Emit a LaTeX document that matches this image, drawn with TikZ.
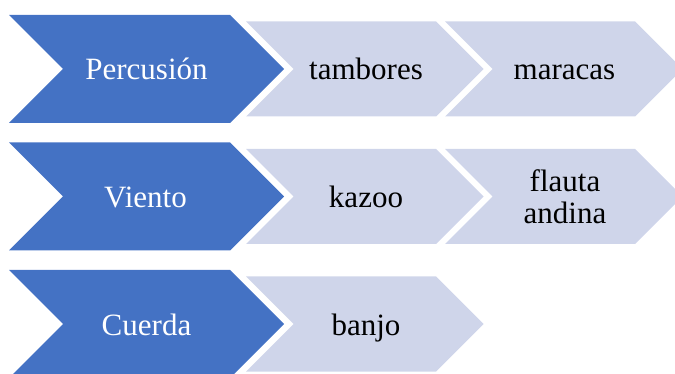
\documentclass[tikz,border=0pt]{standalone}
\usepackage{fontspec}
\setmainfont{Liberation Serif}
\definecolor{chevblue}{RGB}{68,114,196}
\definecolor{chevlight}{RGB}{207,213,234}
\newcommand\chevron[5]{%
  \fill[#5] (#1,#2-#4) -- (#3,#2-#4) -- (#3+#4,#2) -- (#3,#2+#4) -- (#1,#2+#4) -- (#1+#4,#2) -- cycle;}
\begin{document}
\begin{tikzpicture}[x=1pt,y=-1pt,
  mainchev/.style={fill=chevblue},
  subchev/.style={fill=chevlight},
  maintxt/.style={anchor=base,inner sep=0pt,text=white,font=\fontsize{31}{31.5}\selectfont},
  subtxt/.style={anchor=base,inner sep=0pt,text=black,font=\fontsize{31}{31.5}\selectfont}]
\useasboundingbox (0,0) rectangle (675,374);
% row 1
\chevron{9}{69}{230}{54}{mainchev}
\chevron{246}{69}{436}{47.5}{subchev}
\chevron{445}{69}{635}{47.5}{subchev}
% row 2
\chevron{9}{196.5}{230}{54}{mainchev}
\chevron{246}{196.5}{436}{47.5}{subchev}
\chevron{445}{196.5}{635}{47.5}{subchev}
% row 3
\chevron{9}{324}{230}{54}{mainchev}
\chevron{246}{324}{436}{47.5}{subchev}
% texts
\node[maintxt] (perc) at (146.5,80) {Percusión};
\node[subtxt] (tamb) at (366,80) {tambores};
\node[subtxt] (mara) at (564.5,80) {maracas};
\node[maintxt] (vien) at (145.5,207.5) {Viento};
\node[subtxt] (kazo) at (366,207.5) {kazoo};
\node[subtxt,anchor=center,align=center] (flau) at (565,196.5) {flauta\\andina};
\node[maintxt] (cuer) at (146.5,335) {Cuerda};
\node[subtxt] (banj) at (366,335) {banjo};
\end{tikzpicture}
\end{document}
